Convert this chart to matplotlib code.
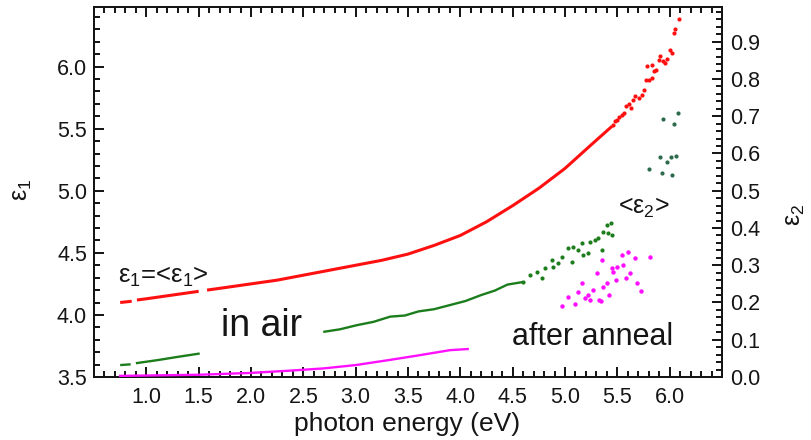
import matplotlib
matplotlib.use("Agg")
import matplotlib.pyplot as plt
from matplotlib.ticker import MultipleLocator
import numpy as np

plt.rcParams['font.family'] = ['Liberation Sans', 'DejaVu Sans']
plt.rcParams['mathtext.fontset'] = 'custom'
plt.rcParams['mathtext.rm'] = 'Liberation Sans'
plt.rcParams['mathtext.it'] = 'Liberation Sans:italic'

# ---- data ----
# red: eps1 (left axis), dense line segments
red_seg1_x = [0.75, 0.86]
red_seg1_y = [4.10, 4.11]
red_seg2_x = [0.91, 1.00, 1.25, 1.50]
red_seg2_y = [4.12, 4.13, 4.16, 4.19]
red_seg3_x = [1.58, 1.75, 2.00, 2.25, 2.50, 2.75, 3.00, 3.25, 3.50, 3.75, 4.00,
              4.25, 4.50, 4.75, 5.00, 5.25, 5.45]
red_seg3_y = [4.20, 4.22, 4.25, 4.28, 4.32, 4.36, 4.40, 4.44, 4.49, 4.56, 4.64,
              4.75, 4.88, 5.02, 5.18, 5.37, 5.52]
# red scattered points at high energy
red_pts_x = [5.46, 5.48, 5.497, 5.513, 5.545, 5.567, 5.586, 5.608, 5.631, 5.650, 5.672, 5.704,
             5.736, 5.758, 5.777, 5.799, 5.831, 5.784, 5.831, 5.847, 5.873, 5.895,
             5.911, 5.937, 5.959, 5.975, 6.007, 6.023, 6.038, 6.055, 6.086]
red_pts_y = [5.53, 5.56, 5.573, 5.594, 5.613, 5.627, 5.685, 5.702, 5.667, 5.734, 5.760, 5.747,
             5.774, 5.809, 5.895, 5.890, 5.906, 6.008, 6.016, 5.962, 5.970, 6.056,
             6.089, 6.043, 6.030, 6.061, 6.137, 6.110, 6.271, 6.303, 6.384]

# green: eps2 in air (right axis)
green_seg1_x = [0.75, 0.85]
green_seg1_y = [0.032, 0.034]
green_seg2_x = [0.90, 1.10, 1.30, 1.51]
green_seg2_y = [0.037, 0.045, 0.054, 0.063]
green_seg3_x = [2.69, 2.85, 3.01, 3.17, 3.33, 3.47, 3.60, 3.75, 3.90, 4.05, 4.20, 4.33, 4.45, 4.60]
green_seg3_y = [0.121, 0.128, 0.139, 0.148, 0.162, 0.165, 0.176, 0.182, 0.193, 0.204, 0.220, 0.232, 0.248, 0.255]
green_pts_x = [4.601, 4.668, 4.735, 4.783, 4.812, 4.879, 4.888, 4.936, 4.974, 5.032,
               5.070, 5.079, 5.127, 5.165, 5.175, 5.223, 5.242, 5.290, 5.318, 5.357,
               5.366, 5.404, 5.414, 5.443, 5.452]
green_pts_y = [0.255, 0.273, 0.281, 0.265, 0.292, 0.314, 0.295, 0.306, 0.322, 0.346,
               0.308, 0.349, 0.340, 0.359, 0.327, 0.332, 0.362, 0.367, 0.373, 0.340,
               0.389, 0.408, 0.386, 0.413, 0.381]
# dark green cluster near 6 eV
teal_pts_x = [5.940, 6.083, 6.045, 5.911, 6.016, 6.064, 5.978, 5.806, 5.930, 6.026]
teal_pts_y = [0.692, 0.708, 0.678, 0.590, 0.590, 0.592, 0.576, 0.558, 0.547, 0.542]

# magenta: eps2 after anneal (right axis)
mag_seg_x = [0.75, 1.00, 1.50, 2.00, 2.37, 2.69, 3.00, 3.33, 3.60, 3.90, 4.07]
mag_seg_y = [0.003, 0.004, 0.006, 0.011, 0.017, 0.023, 0.032, 0.046, 0.058, 0.072, 0.075]
mag_pts_x = [4.974, 5.032, 5.098, 5.127, 5.165, 5.194, 5.223, 5.242, 5.270, 5.309,
             5.328, 5.347, 5.366, 5.404, 5.423, 5.452, 5.462, 5.490, 5.500, 5.548,
             5.557, 5.586, 5.605, 5.625, 5.672, 5.691, 5.729, 5.815, 5.357]
mag_pts_y = [0.190, 0.214, 0.196, 0.228, 0.252, 0.212, 0.220, 0.206, 0.233, 0.279,
             0.206, 0.204, 0.241, 0.252, 0.220, 0.292, 0.281, 0.260, 0.295, 0.327,
             0.300, 0.265, 0.335, 0.279, 0.319, 0.252, 0.231, 0.322, 0.314]

x_ticks = [1.0, 1.5, 2.0, 2.5, 3.0, 3.5, 4.0, 4.5, 5.0, 5.5, 6.0]
y1_ticks = [3.5, 4.0, 4.5, 5.0, 5.5, 6.0]
y2_ticks = [0.0, 0.1, 0.2, 0.3, 0.4, 0.5, 0.6, 0.7, 0.8, 0.9]

RED = '#ff1010'
GREEN = '#1b7d1b'
TEAL = '#2d6a4c'
MAG = '#ff10ff'
TXT = '#151515'

fig = plt.figure(figsize=(8.12, 4.40), dpi=100)
ax1 = fig.add_axes([94/812, 1-377/440, (722-94)/812, (377-7)/440])
ax2 = ax1.twinx()

for sx, sy in [(red_seg1_x, red_seg1_y), (red_seg2_x, red_seg2_y), (red_seg3_x, red_seg3_y)]:
    ax1.plot(sx, sy, color=RED, lw=2.2, solid_capstyle='butt', zorder=3)
ax1.plot(red_pts_x, red_pts_y, 'o', color=RED, ms=3.0, mew=0, zorder=3)

for sx, sy in [(green_seg1_x, green_seg1_y), (green_seg2_x, green_seg2_y), (green_seg3_x, green_seg3_y)]:
    ax2.plot(sx, sy, color=GREEN, lw=1.7, solid_capstyle='butt', zorder=3)
ax2.plot(green_pts_x, green_pts_y, 'o', color=GREEN, ms=3.0, mew=0, zorder=3)
ax2.plot(teal_pts_x, teal_pts_y, 'o', color=TEAL, ms=3.0, mew=0, zorder=3)
ax2.plot(mag_seg_x, mag_seg_y, color=MAG, lw=1.7, zorder=3)
ax2.plot(mag_pts_x, mag_pts_y, 'o', color=MAG, ms=3.2, mew=0, zorder=3)

ax1.set_xlim(0.5, 6.5)
ax1.set_ylim(3.5, 6.48)
ax2.set_ylim(0.0, 0.993)

ax1.set_xticks(x_ticks)
ax1.set_xticklabels([f"{v:.1f}" for v in x_ticks])
ax1.set_yticks(y1_ticks)
ax1.set_yticklabels([f"{v:.1f}" for v in y1_ticks])
ax2.set_yticks(y2_ticks)
ax2.set_yticklabels([f"{v:.1f}" for v in y2_ticks])
ax1.xaxis.set_minor_locator(MultipleLocator(0.1))
ax1.yaxis.set_minor_locator(MultipleLocator(0.1))
ax2.yaxis.set_minor_locator(MultipleLocator(0.02))

for a in (ax1, ax2):
    for s in a.spines.values():
        s.set_linewidth(1.4)
        s.set_color(TXT)
ax1.tick_params(axis='x', which='both', direction='in', top=True, bottom=True,
                labelsize=15.5, pad=7, width=1.3, labelcolor=TXT)
ax1.tick_params(axis='y', which='both', direction='in', left=True, right=False,
                labelsize=15.5, pad=5, width=1.3, labelcolor=TXT)
ax2.tick_params(axis='y', which='both', direction='in', right=True, left=False,
                labelsize=15.5, pad=6, width=1.3, labelcolor=TXT)
for a in (ax1, ax2):
    a.tick_params(which='major', length=7)
    a.tick_params(which='minor', length=4)

ax1.text(0.73, 4.31, "ε$_1$=<ε$_1$>", fontsize=18.5, ha='left', va='center', color=TXT)
ax1.text(2.10, 3.83, "in air", fontsize=27, ha='center', va='baseline', color=TXT)
ax1.text(5.26, 3.76, "after anneal", fontsize=22, ha='center', va='baseline', color=TXT)
ax1.text(5.75, 4.86, "<ε$_2$>", fontsize=18, ha='center', va='center', color=TXT)

fig.text(407/812, 1-424/440, "photon energy (eV)", fontsize=19, ha='center', va='center', color=TXT)
fig.text(22/812, 1-190/440, "ε$_1$", fontsize=18, ha='center', va='center', rotation=90, color=TXT)
fig.text(795/812, 1-215/440, "ε$_2$", fontsize=18, ha='center', va='center', rotation=90, color=TXT)

fig.savefig("out.png", dpi=100)
